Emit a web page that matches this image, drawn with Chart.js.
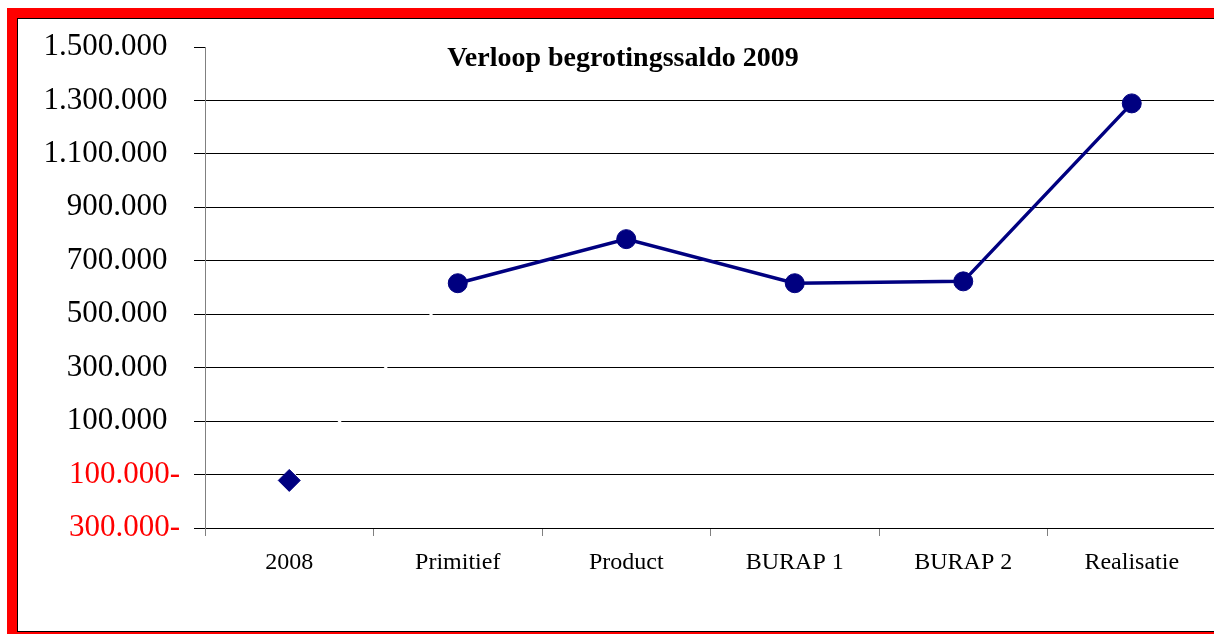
<!DOCTYPE html>
<html>
<head>
<meta charset="utf-8">
<script src="https://cdn.jsdelivr.net/npm/chart.js@4.4.1/dist/chart.umd.min.js"></script>
<style>
  html, body { margin: 0; padding: 0; background: #fff; overflow: hidden; width: 1214px; height: 634px; }
  #frame { position: absolute; left: 7px; top: 8px; width: 1230px; height: 614px;
           border-left: 10px solid #ff0000; border-top: 10px solid #ff0000; border-bottom: 2px solid #ff0000; }
  #inner { position: absolute; left: 0; top: 0; right: 0; bottom: 0;
           border-left: 1px solid #000; border-top: 1px solid #000; border-bottom: 1px solid #000; }
  #wrap { position: absolute; left: 0; top: 0; width: 1240px; height: 634px; }
  #title { position: absolute; left: 373px; width: 500px; top: 41px; line-height: 31px; text-align: center;
           font-family: "Liberation Serif", serif; font-weight: bold; font-size: 28px; color: #000; }
</style>
</head>
<body>
<div id="frame"><div id="inner"></div></div>
<div id="wrap"><canvas id="c" width="1240" height="634"></canvas></div>
<div id="title">Verloop begrotingssaldo 2009</div>
<script>
const categories = ['2008', 'Primitief', 'Product', 'BURAP 1', 'BURAP 2', 'Realisatie'];
const saldo = [-122000, 616000, 781000, 616000, 623000, 1289000];
const pointStyles = ['rectRot', 'circle', 'circle', 'circle', 'circle', 'circle'];
const yMin = -300000;
const yMax = 1500000;
const yStep = 200000;

function fmt(v) {
  const s = Math.abs(v).toString().replace(/\B(?=(\d{3})+(?!\d))/g, '.');
  return v < 0 ? s + '-' : s + '\u2009\u2009';
}

const navy = '#000080';

new Chart(document.getElementById('c'), {
  type: 'line',
  data: {
    labels: categories,
    datasets: [{
      data: saldo,
      borderColor: navy,
      backgroundColor: navy,
      borderWidth: 3.5,
      pointStyle: pointStyles,
      pointRadius: saldo.map((v, i) => i === 0 ? 11 : 9.5),
      pointBackgroundColor: navy,
      pointBorderColor: navy,
      pointBorderWidth: 1,
      tension: 0,
      segment: {
        borderColor: ctx => ctx.p0DataIndex === 0 ? '#ffffff' : navy,
        borderWidth: ctx => ctx.p0DataIndex === 0 ? 2.5 : 3.5
      }
    }]
  },
  options: {
    responsive: false,
    animation: false,
    devicePixelRatio: 1,
    layout: { padding: { left: 0, right: 24, top: 47, bottom: 0 } },
    plugins: { legend: { display: false }, tooltip: { enabled: false }, title: { display: false } },
    scales: {
      x: {
        offset: true,
        grid: { offset: true, drawOnChartArea: false, tickLength: 8, tickColor: '#808080', lineWidth: 1 },
        border: { color: '#000', width: 1 },
        ticks: { color: '#000', font: { family: 'Liberation Serif', size: 24 }, padding: 12, maxRotation: 0, autoSkip: false },
        afterFit: s => { s.height = 106; }
      },
      y: {
        min: yMin,
        max: yMax,
        grid: {
          color: ctx => (ctx.tick && ctx.tick.value === yMax) ? 'rgba(0,0,0,0)' : '#000',
          tickColor: '#000',
          tickLength: 11,
          lineWidth: 1
        },
        border: { color: '#808080', width: 1 },
        ticks: {
          stepSize: yStep,
          padding: 14,
          color: ctx => ctx.tick.value < 0 ? '#ff0000' : '#000',
          font: { family: 'Liberation Serif', size: 31 },
          callback: v => fmt(v)
        },
        afterFit: s => { s.width = 205; }
      }
    }
  }
});
</script>
</body>
</html>
